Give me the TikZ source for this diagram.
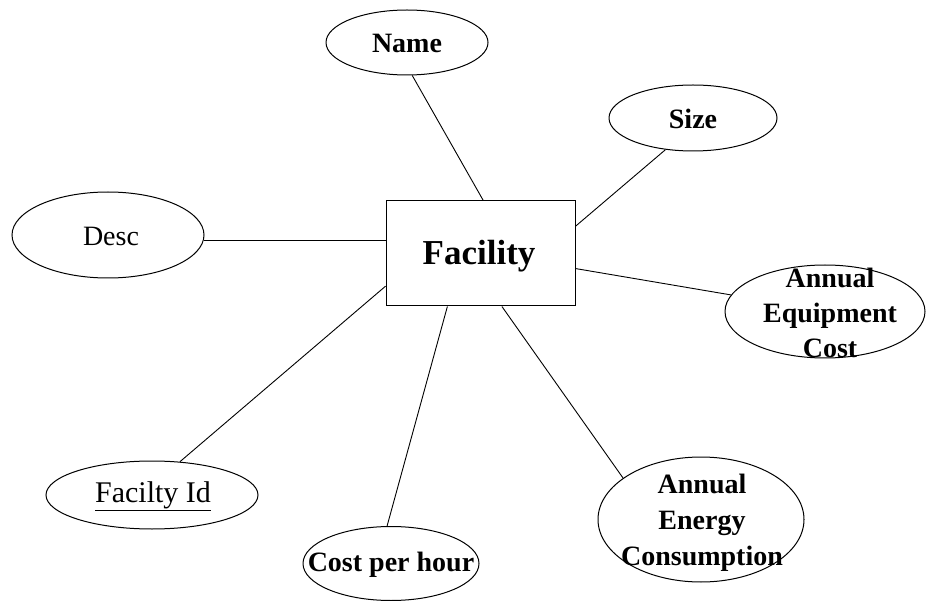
\documentclass[tikz,border=0pt]{standalone}
\usepackage{fontspec}
\setmainfont{Liberation Serif}
\usetikzlibrary{shapes.geometric}
\begin{document}
\begin{tikzpicture}[x=1pt,y=-1pt,
  attr/.style={ellipse, draw, line width=1pt, inner sep=0pt},
  ent/.style={rectangle, draw, line width=1pt, inner sep=0pt},
  lbl/.style={font=\fontsize{28}{35}\selectfont\bfseries, align=center, inner sep=0pt},
  rlbl/.style={font=\fontsize{28}{35}\selectfont, align=center, inner sep=0pt},
  link/.style={line width=0.9pt}]
\useasboundingbox (0,0) rectangle (926,601);

% entity
\node[ent, minimum width=189pt, minimum height=105pt] (facility) at (480.5,253.5) {};
\node[lbl, font=\fontsize{35}{40}\selectfont\bfseries] (facilityT) at (479,256) {Facility};

% attributes
\node[attr, minimum width=162pt, minimum height=65pt] (name) at (407,42.5) {};
\node[lbl] (nameT) at (407,43) {Name};

\node[attr, minimum width=168pt, minimum height=66pt] (size) at (693,118) {};
\node[lbl] (sizeT) at (693,119) {Size};

\node[attr, minimum width=192pt, minimum height=86pt] (desc) at (108,235) {};
\node[rlbl] (descT) at (111,236) {Desc};

\node[attr, minimum width=200pt, minimum height=93pt] (equip) at (825,311.5) {};
\node[lbl] (equipT) at (830,313) {Annual\\Equipment\\Cost};

\node[attr, minimum width=212pt, minimum height=68pt] (facid) at (152,495) {};
\node[rlbl, font=\fontsize{30}{35}\selectfont] (facidT) at (153,496) {\underline{Facilty Id}};

\node[attr, minimum width=176pt, minimum height=74pt] (cost) at (391,563.5) {};
\node[lbl] (costT) at (391,565) {Cost per hour};

\node[attr, minimum width=206pt, minimum height=125pt] (energy) at (701,519.5) {};
\node[lbl, font=\fontsize{28}{36}\selectfont\bfseries] (energyT) at (702,523) {Annual\\Energy\\Consumption};

% connectors
\draw[link] (name.279) -- (facility.87);
\draw[link] (size.229) -- (facility.16);
\draw[link] (desc.-3) -- (desc.-3 -| facility.west);
\draw[link] (facility.-9) -- (equip.170);
\draw[link] (facility.199) -- (facid.50);
\draw[link] (facility.238) -- (cost.96);
\draw[link] (facility.-68) -- (energy.152);
\end{tikzpicture}
\end{document}
